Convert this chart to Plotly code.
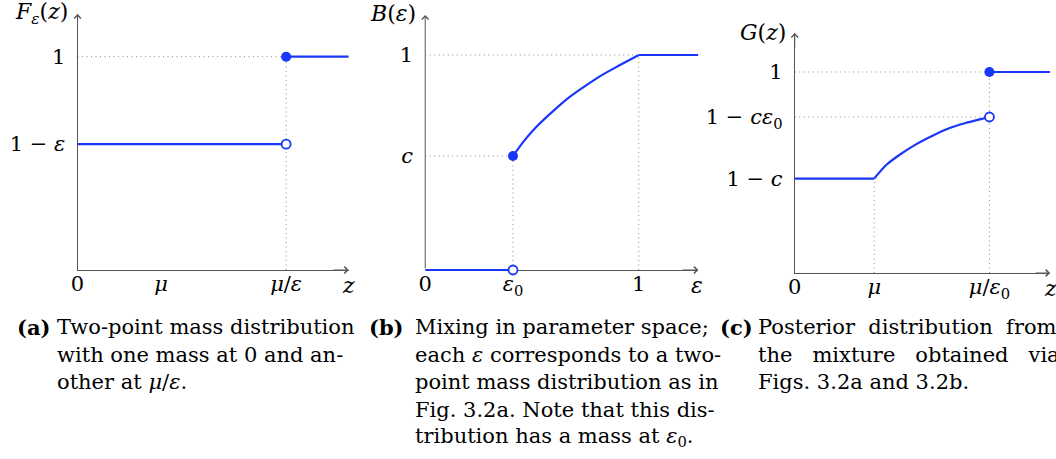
import plotly.graph_objects as go

W, H = 1056, 459

# ---------------- data ----------------
# panel (a): two-point mass distribution F_eps(z)
A_MU = 1.0
A_MU_OVER_EPS = 2.5
A_LOW = 0.59            # 1 - eps
A_XMAX = 3.25
A_YMAX = 1.20
a_xticks = [0, A_MU, A_MU_OVER_EPS]
a_xticktext = ["0", "<i>μ</i>", "<i>μ</i>/<i>ε</i>"]
a_yticks = [A_LOW, 1.0]
a_yticktext = ["1 − <i>ε</i>", "1"]

# panel (b): mixing distribution B(eps)
B_EPS0 = 0.411
B_C = 0.53
B_XMAX = 1.279
B_YMAX = 1.186
B_YPAD = 0.03
b_curve_x = [0.411, 0.460, 0.522, 0.600, 0.678, 0.755, 0.833, 0.910, 1.0]
b_curve_y = [0.530, 0.597, 0.667, 0.740, 0.806, 0.860, 0.910, 0.952, 1.0]
b_xticks = [0, B_EPS0, 1.0]
b_xticktext = ["0", "<i>ε</i><sub>0</sub>", "1"]
b_yticks = [B_C, 1.0]
b_yticktext = ["<i>c</i>", "1"]

# panel (c): posterior distribution G(z)
C_MU = 1.0
C_MU_OVER_EPS0 = 2.45
C_LOW = 0.47            # 1 - c
C_MID = 0.776           # 1 - c*eps0
C_XMAX = 3.2125
C_YMAX = 1.194
c_curve_x = [1.0, 1.15, 1.316, 1.525, 1.734, 1.941, 2.15, 2.316, 2.45]
c_curve_y = [0.47, 0.537, 0.587, 0.640, 0.683, 0.720, 0.746, 0.763, 0.776]
c_xticks = [0, C_MU, C_MU_OVER_EPS0]
c_xticktext = ["0", "<i>μ</i>", "<i>μ</i>/<i>ε</i><sub>0</sub>"]
c_yticks = [C_LOW, C_MID, 1.0]
c_yticktext = ["1 − <i>c</i>", "1 − <i>cε</i><sub>0</sub>", "1"]

NB = "&nbsp;"
captions = {
    "a": ["Two-point mass distribution",
          "with one mass at 0 and an-",
          "other at <i>μ</i>/<i>ε</i>."],
    "b": ["Mixing in parameter space;",
          "each <i>ε</i> corresponds to a two-",
          "point mass distribution as in",
          "Fig. 3.2a. Note that this dis-",
          "tribution has a mass at <i>ε</i><sub>0</sub>."],
    "c": ["Posterior" + NB * 2 + "distribution" + NB * 2 + "from",
          "the" + NB * 3 + "mixture" + NB * 3 + "obtained" + NB * 3 + "via",
          "Figs. 3.2a and 3.2b."],
}

# ---------------- style ----------------
BLUE = "rgb(25,55,250)"
AXIS = "#555555"
DOT = "#888888"
FONT = "DejaVu Serif"
FS_TICK = 21
FS_CAP = 21
FS_TITLE = 22
LW = 2.2


def px(x):
    return x / W


def py(y):
    return 1 - y / H


fig = go.Figure()


def line(xs, ys, ax, dotted=False):
    fig.add_trace(go.Scatter(
        x=xs, y=ys, mode="lines", xaxis="x" + ax, yaxis="y" + ax,
        line=dict(color=DOT if dotted else BLUE,
                  width=1 if dotted else LW,
                  dash="1px,3.5px" if dotted else "solid"),
        hoverinfo="skip", showlegend=False, cliponaxis=False))


def curve(xs, ys, ax):
    fig.add_trace(go.Scatter(
        x=xs, y=ys, mode="lines", xaxis="x" + ax, yaxis="y" + ax,
        line=dict(color=BLUE, width=LW, shape="spline", smoothing=0.6),
        hoverinfo="skip", showlegend=False, cliponaxis=False))


def dot(x, y, ax, filled):
    fig.add_trace(go.Scatter(
        x=[x], y=[y], mode="markers", xaxis="x" + ax, yaxis="y" + ax,
        marker=dict(size=10 if filled else 9,
                    color=BLUE if filled else "white",
                    line=dict(color=BLUE, width=0 if filled else 1.8)),
        hoverinfo="skip", showlegend=False, cliponaxis=False))


# panel a
line([0, A_MU_OVER_EPS], [1, 1], "", True)
line([A_MU_OVER_EPS, A_MU_OVER_EPS], [0, 1], "", True)
line([0, A_MU_OVER_EPS], [A_LOW, A_LOW], "")
line([A_MU_OVER_EPS, A_XMAX], [1, 1], "")
dot(A_MU_OVER_EPS, A_LOW, "", False)
dot(A_MU_OVER_EPS, 1, "", True)

# panel b
line([0, 1], [1, 1], "2", True)
line([1, 1], [0, 1], "2", True)
line([0, B_EPS0], [B_C, B_C], "2", True)
line([B_EPS0, B_EPS0], [0, B_C], "2", True)
line([0, B_EPS0], [0, 0], "2")
curve(b_curve_x, b_curve_y, "2")
line([1, B_XMAX], [1, 1], "2")
dot(B_EPS0, 0, "2", False)
dot(B_EPS0, B_C, "2", True)

# panel c
line([0, C_MU_OVER_EPS0], [1, 1], "3", True)
line([0, C_MU_OVER_EPS0], [C_MID, C_MID], "3", True)
line([C_MU_OVER_EPS0, C_MU_OVER_EPS0], [0, 1], "3", True)
line([C_MU, C_MU], [0, C_LOW], "3", True)
line([0, C_MU], [C_LOW, C_LOW], "3")
curve(c_curve_x, c_curve_y, "3")
line([C_MU_OVER_EPS0, C_XMAX], [1, 1], "3")
dot(C_MU_OVER_EPS0, C_MID, "3", False)
dot(C_MU_OVER_EPS0, 1, "3", True)


def xaxis(dom, rng, tv, tt, **kw):
    d = dict(domain=[px(dom[0]), px(dom[1])], range=rng, showgrid=False,
             zeroline=False, showline=True, linecolor=AXIS, linewidth=1,
             tickvals=tv, ticktext=tt, ticks="", ticklabelstandoff=-5,
             layer="below traces",
             tickfont=dict(family=FONT, size=FS_TICK, color="black"),
             fixedrange=True)
    d.update(kw)
    return d


def yaxis(dom, rng, tv, tt, anchor, **kw):
    d = dict(domain=[py(dom[0]), py(dom[1])], range=rng, showgrid=False,
             zeroline=False, showline=True, linecolor=AXIS, linewidth=1,
             tickvals=tv, ticktext=tt, ticks="outside", ticklen=7,
             tickcolor="rgba(0,0,0,0)", layer="below traces",
             tickfont=dict(family=FONT, size=FS_TICK, color="black"),
             anchor=anchor, fixedrange=True)
    d.update(kw)
    return d


layout_axes = dict(
    xaxis=xaxis((71, 344), [0, A_XMAX], a_xticks, a_xticktext, anchor="y"),
    yaxis=yaxis((270, 14), [0, A_YMAX], a_yticks, a_yticktext, "x"),
    xaxis2=xaxis((421, 696), [0, B_XMAX], b_xticks, b_xticktext,
                 anchor="free", position=py(270)),
    yaxis2=yaxis((270 + B_YPAD * 215, 15), [-B_YPAD, B_YMAX], b_yticks,
                 b_yticktext, "x2", showline=False),
    xaxis3=xaxis((793, 1050), [0, C_XMAX], c_xticks, c_xticktext, anchor="y3"),
    yaxis3=yaxis((273, 33), [0, C_YMAX], c_yticks, c_yticktext, "x3"),
)

ann = []


def arrow(ax, x, y, tx, ty):
    ann.append(dict(xref="x" + ax, yref="y" + ax, axref="x" + ax, ayref="y" + ax,
                    x=x, y=y, ax=tx, ay=ty, text="", showarrow=True,
                    arrowhead=4, arrowsize=1.3, arrowwidth=1, arrowcolor=AXIS,
                    standoff=0, startstandoff=0))


arrow("", A_XMAX, 0, A_XMAX - 0.2, 0)
arrow("", 0, A_YMAX, 0, A_YMAX - 0.08)
arrow("2", B_XMAX, 0, B_XMAX - 0.08, 0)
arrow("2", 0, B_YMAX, 0, 0)
arrow("3", C_XMAX, 0, C_XMAX - 0.2, 0)
arrow("3", 0, C_YMAX, 0, C_YMAX - 0.08)


def text(x, y, s, xanchor="center", size=FS_CAP):
    ann.append(dict(xref="paper", yref="paper", x=px(x), y=py(y), text=s,
                    showarrow=False, xanchor=xanchor, yanchor="middle",
                    font=dict(family=FONT, size=size, color="black")))


# axis names
text(35, 14, "<i>F</i><sub><i>ε</i></sub>(<i>z</i>)", size=FS_TITLE)
text(344, 285, "<i>z</i>", size=FS_TITLE)
text(389, 13, "<i>B</i>(<i>ε</i>)", size=FS_TITLE)
text(695, 285, "<i>ε</i>", size=FS_TITLE)
text(761, 33, "<i>G</i>(<i>z</i>)", size=FS_TITLE)
text(1050, 288, "<i>z</i>", size=FS_TITLE)

# captions
LINE_Y0, LINE_DY = 327, 27.5
for key, lx, tx in (("a", 8, 48), ("b", 362, 409), ("c", 716, 754)):
    text(lx, LINE_Y0, "<b>(" + key + ")</b>", "left")
    for i, s in enumerate(captions[key]):
        text(tx, LINE_Y0 + i * LINE_DY, s, "left")

fig.update_layout(
    width=W, height=H, margin=dict(l=0, r=0, t=0, b=0),
    paper_bgcolor="white", plot_bgcolor="white",
    annotations=ann, showlegend=False, **layout_axes)

fig.write_html("out.html", config={"displayModeBar": False})
